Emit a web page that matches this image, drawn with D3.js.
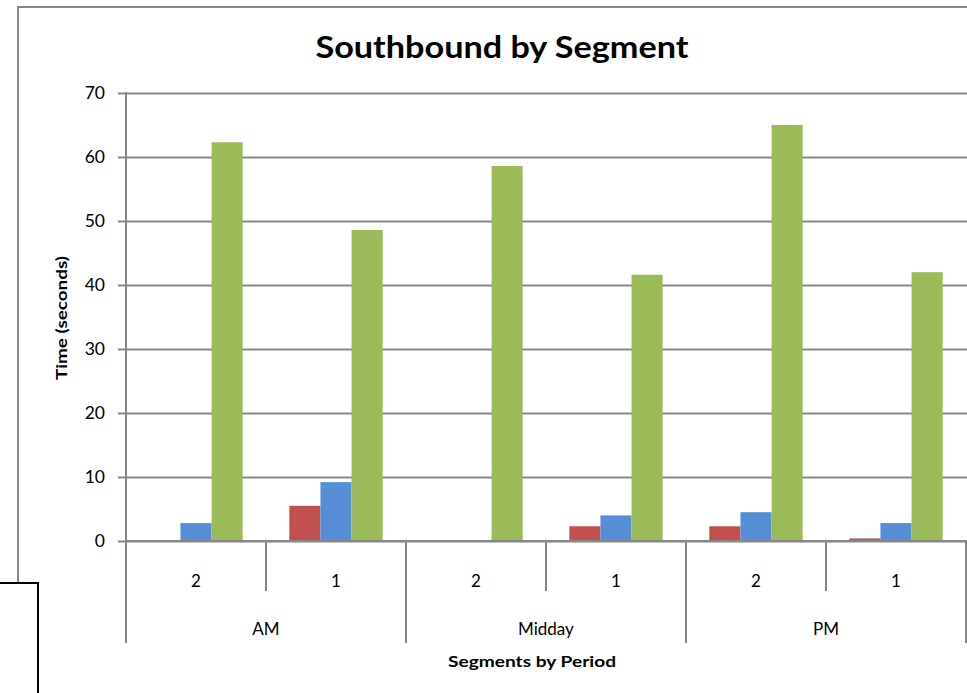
<!DOCTYPE html>
<html>
<head>
<meta charset="utf-8">
<script src="https://cdn.jsdelivr.net/npm/d3@7"></script>
<style>
  body { margin: 0; background: #fff; }
  svg { display: block; font-family: "Lato", "Open Sans", sans-serif; }
</style>
</head>
<body>
<div id="chart"></div>
<script>
// chart data
var periods = ["AM", "Midday", "PM"];
var segments = ["2", "1"];
var seriesKeys = ["s1", "s2", "s3"];
var redValues = [0, 5.5, 0, 2.3, 2.3, 0.4];
var blueValues = [2.8, 9.2, 0, 4.0, 4.5, 2.8];
var greenValues = [62.3, 48.6, 58.6, 41.6, 65.0, 42.0];
var yTicks = [0, 10, 20, 30, 40, 50, 60, 70];

var colors = {s1: "#C0504D", s2: "#558ED5", s3: "#9BBB59"};
var gridColor = "#878787";

var width = 967, height = 693;
var plot = {left: 126, right: 966, top: 93, bottom: 541};

// build rows: one per period/segment pair
var rows = [];
periods.forEach(function(p, i) {
    segments.forEach(function(s, j) {
        var k = i * segments.length + j;
        rows.push({key: p + "-" + s, period: p, segment: s,
                   s1: redValues[k], s2: blueValues[k], s3: greenValues[k]});
    });
});

var svg = d3.select("#chart").append("svg")
    .attr("width", width)
    .attr("height", height);

// outer chart frame
svg.append("rect")
    .attr("x", 18).attr("y", 7)
    .attr("width", 1000).attr("height", 800)
    .attr("fill", "none")
    .attr("stroke", "#898989")
    .attr("stroke-width", 2);

var x0 = d3.scaleBand()
    .domain(rows.map(function(d) { return d.key; }))
    .range([plot.left, plot.right]);

var x1 = d3.scaleBand()
    .domain(seriesKeys)
    .range([0, x0.bandwidth()])
    .paddingInner(0)
    .paddingOuter(0.75);

var xPeriod = d3.scaleBand()
    .domain(periods)
    .range([plot.left, plot.right]);

var y = d3.scaleLinear()
    .domain([0, 70])
    .range([plot.bottom, plot.top]);

// gridlines
svg.append("g")
    .attr("transform", "translate(" + plot.left + ",0)")
    .call(d3.axisLeft(y).tickValues(yTicks).tickSize(-(width - plot.left)).tickFormat(""))
    .call(function(g) { g.select(".domain").remove(); })
    .selectAll("line")
    .attr("stroke", gridColor)
    .attr("stroke-width", 2);

// bars
svg.append("g")
    .selectAll("g")
    .data(rows)
    .enter()
    .append("g")
    .attr("transform", function(d) { return "translate(" + x0(d.key) + ",0)"; })
    .selectAll("rect")
    .data(function(d) { return seriesKeys.map(function(k) { return {key: k, value: d[k]}; }); })
    .enter()
    .append("rect")
    .attr("x", function(d) { return x1(d.key); })
    .attr("width", x1.bandwidth())
    .attr("y", function(d) { return y(d.value); })
    .attr("height", function(d) { return y(0) - y(d.value); })
    .attr("fill", function(d) { return colors[d.key]; });

// y axis
var yAxis = svg.append("g")
    .attr("transform", "translate(" + plot.left + ",0)")
    .call(d3.axisLeft(y).tickValues(yTicks).tickSize(8).tickPadding(13));
yAxis.select(".domain").remove();
yAxis.selectAll("line").attr("stroke", gridColor).attr("stroke-width", 2);
yAxis.selectAll("text")
    .attr("font-size", 17.5)
    .attr("fill", "#000")
    .attr("font-family", "Lato, 'Open Sans', sans-serif");
yAxis.append("line")
    .attr("x1", 0).attr("x2", 0)
    .attr("y1", plot.top - 1).attr("y2", 643)
    .attr("stroke", gridColor).attr("stroke-width", 2);

// category axis (segments + periods)
var xAxis = svg.append("g");
xAxis.append("line")
    .attr("x1", plot.left).attr("x2", width)
    .attr("y1", y(0)).attr("y2", y(0))
    .attr("stroke", gridColor).attr("stroke-width", 2);

xAxis.selectAll(".segtick")
    .data(rows.filter(function(d, i) { return i % 2 === 1; }))
    .enter()
    .append("line")
    .attr("x1", function(d) { return x0(d.key); })
    .attr("x2", function(d) { return x0(d.key); })
    .attr("y1", y(0)).attr("y2", 591)
    .attr("stroke", gridColor).attr("stroke-width", 2);

xAxis.selectAll(".pertick")
    .data(periods.slice(1).concat(["end"]))
    .enter()
    .append("line")
    .attr("x1", function(d, i) { return plot.left + (i + 1) * xPeriod.bandwidth(); })
    .attr("x2", function(d, i) { return plot.left + (i + 1) * xPeriod.bandwidth(); })
    .attr("y1", y(0)).attr("y2", 643)
    .attr("stroke", gridColor).attr("stroke-width", 2);

xAxis.selectAll(".seglabel")
    .data(rows)
    .enter()
    .append("text")
    .attr("x", function(d) { return x0(d.key) + x0.bandwidth() / 2; })
    .attr("y", 587)
    .attr("text-anchor", "middle")
    .attr("font-size", 17)
    .text(function(d) { return d.segment; });

xAxis.selectAll(".perlabel")
    .data(periods)
    .enter()
    .append("text")
    .attr("x", function(d) { return xPeriod(d) + xPeriod.bandwidth() / 2; })
    .attr("y", 635)
    .attr("text-anchor", "middle")
    .attr("font-size", 17)
    .text(function(d) { return d; });

// titles
svg.append("text")
    .attr("x", 502).attr("y", 58)
    .attr("text-anchor", "middle")
    .attr("font-size", 30)
    .attr("font-weight", "bold")
    .attr("textLength", 373)
    .attr("lengthAdjust", "spacingAndGlyphs")
    .text("Southbound by Segment");

svg.append("text")
    .attr("transform", "translate(67,318) rotate(-90)")
    .attr("text-anchor", "middle")
    .attr("font-size", 15)
    .attr("font-weight", "bold")
    .attr("textLength", 124)
    .attr("lengthAdjust", "spacingAndGlyphs")
    .text("Time (seconds)");

svg.append("text")
    .attr("x", 532).attr("y", 667)
    .attr("text-anchor", "middle")
    .attr("font-size", 15)
    .attr("font-weight", "bold")
    .attr("textLength", 168)
    .attr("lengthAdjust", "spacingAndGlyphs")
    .text("Segments by Period");

// small box at bottom left
svg.append("rect")
    .attr("x", -2).attr("y", 583)
    .attr("width", 40).attr("height", 200)
    .attr("fill", "#fff")
    .attr("stroke", "#000")
    .attr("stroke-width", 2);
</script>
</body>
</html>
